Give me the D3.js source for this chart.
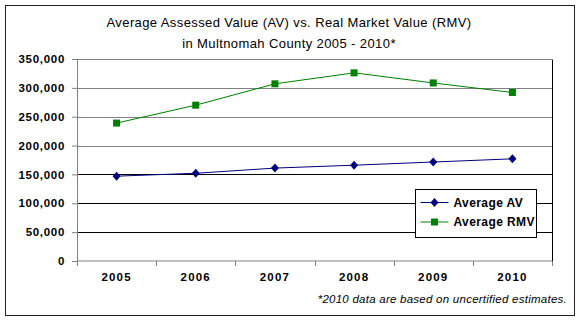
<!DOCTYPE html>
<html>
<head>
<meta charset="utf-8">
<script src="https://cdn.jsdelivr.net/npm/d3@7"></script>
<style>
  body { margin: 0; background: #fff; }
  text { font-family: Arial, "Liberation Sans", sans-serif; }
</style>
</head>
<body>
<script>
const years = ["2005", "2006", "2007", "2008", "2009", "2010"];
const avValues = [147000, 152000, 161000, 166000, 171500, 177000];
const rmvValues = [239000, 270000, 307000, 326000, 308500, 292000];
const yTicks = [0, 50000, 100000, 150000, 200000, 250000, 300000, 350000];
const seriesNames = ["Average AV", "Average RMV"];
const titleLines = ["Average Assessed Value (AV) vs. Real Market Value (RMV)",
                    "in Multnomah County 2005 - 2010*"];
const footnote = "*2010 data are based on uncertified estimates.";

const width = 580, height = 321;
const margin = {left: 77, right: 28, top: 59, bottom: 60};
const plotW = width - margin.left - margin.right;
const plotH = height - margin.top - margin.bottom;

let svg = d3.select("body").append("svg")
        .attr("width", width)
        .attr("height", height);

// outer frame
svg.append("rect")
   .attr("x", 5.5).attr("y", 5.5)
   .attr("width", 569).attr("height", 310)
   .attr("fill", "white")
   .attr("stroke", "#222")
   .attr("stroke-width", 1);

// title
svg.selectAll("text.title")
   .data(titleLines)
   .enter().append("text")
   .attr("class", "title")
   .attr("x", 289)
   .attr("y", (d, i) => 27 + i * 21)
   .attr("text-anchor", "middle")
   .attr("font-size", 13)
   .attr("letter-spacing", 0.4)
   .text(d => d);

let x = d3.scaleBand().domain(years).range([0, plotW]);
let y = d3.scaleLinear().domain([0, 350000]).range([plotH, 0]);

let g = svg.append("g")
        .attr("transform", "translate(" + margin.left + "," + margin.top + ")");

// gridlines
g.selectAll("line.grid")
 .data(yTicks.filter(d => d > 0))
 .enter().append("line")
 .attr("class", "grid")
 .attr("x1", 0).attr("x2", plotW)
 .attr("y1", d => Math.round(y(d)) + 0.5)
 .attr("y2", d => Math.round(y(d)) + 0.5)
 .attr("stroke", d => d >= 200000 ? "#808080" : "#000")
 .attr("stroke-width", 1);

// right border of plot area
g.append("line")
 .attr("x1", plotW + 0.5).attr("x2", plotW + 0.5)
 .attr("y1", Math.round(y(350000)) + 0.5).attr("y2", plotH)
 .attr("stroke", "#000");

// y axis
let yAxis = d3.axisLeft(y)
    .tickValues(yTicks)
    .tickSize(5)
    .tickPadding(7)
    .tickFormat(d3.format(","));
g.append("g")
 .call(yAxis)
 .call(a => a.select(".domain").attr("stroke", "#808080"))
 .call(a => a.selectAll(".tick line").attr("stroke", "#808080"))
 .call(a => a.selectAll("text")
             .attr("font-size", 11.5)
             .attr("font-weight", "bold")
             .attr("letter-spacing", 0.7)
             .attr("fill", "#000")
             .attr("font-family", "Arial, 'Liberation Sans', sans-serif"));

// x axis
let xAxis = d3.axisBottom(x).tickSize(0).tickPadding(12);
let xg = g.append("g")
 .attr("transform", "translate(0," + plotH + ")")
 .call(xAxis);
xg.select(".domain").remove();
xg.append("line").attr("x1", 0).attr("x2", plotW).attr("stroke", "#808080");
xg.selectAll("text")
  .attr("font-size", 11.5)
  .attr("font-weight", "bold")
  .attr("letter-spacing", 1.2)
  .attr("fill", "#000")
  .attr("font-family", "Arial, 'Liberation Sans', sans-serif");
xg.selectAll("line.btick")
  .data(d3.range(years.length + 1))
  .enter().append("line")
  .attr("class", "btick")
  .attr("x1", i => Math.round(i * x.step()) + 0.5)
  .attr("x2", i => Math.round(i * x.step()) + 0.5)
  .attr("y1", 0).attr("y2", 5)
  .attr("stroke", "#808080");

let cx = d => x(d) + x.bandwidth() / 2;

// RMV line
let line = d3.line().x((d, i) => cx(years[i])).y(d => y(d));
g.append("path")
 .datum(rmvValues)
 .attr("d", line)
 .attr("fill", "none")
 .attr("stroke", "#008000")
 .attr("stroke-width", 1);
g.selectAll("rect.rmv")
 .data(rmvValues)
 .enter().append("rect")
 .attr("class", "rmv")
 .attr("x", (d, i) => cx(years[i]) - 3.5)
 .attr("y", d => y(d) - 3.5)
 .attr("width", 7).attr("height", 7)
 .attr("fill", "#008000");

// AV line
g.append("path")
 .datum(avValues)
 .attr("d", line)
 .attr("fill", "none")
 .attr("stroke", "#000080")
 .attr("stroke-width", 1);
// squat diamond like Excel's marker
let diamond = d3.symbol().type({
  draw: function(ctx) {
    ctx.moveTo(0, -4.5); ctx.lineTo(4, 0); ctx.lineTo(0, 4.5); ctx.lineTo(-4, 0); ctx.closePath();
  }
});
g.selectAll("path.av")
 .data(avValues)
 .enter().append("path")
 .attr("class", "av")
 .attr("d", diamond)
 .attr("transform", (d, i) => "translate(" + cx(years[i]) + "," + y(d) + ")")
 .attr("fill", "#000080");

// legend
let lg = svg.append("g").attr("transform", "translate(415.5,189.5)");
lg.append("rect")
  .attr("width", 121).attr("height", 48)
  .attr("fill", "white").attr("stroke", "#000");
const legendColors = ["#000080", "#008000"];
seriesNames.forEach(function(name, i) {
  let ly = 13 + i * 19.5;
  lg.append("line")
    .attr("x1", 5).attr("x2", 33)
    .attr("y1", ly).attr("y2", ly)
    .attr("stroke", legendColors[i]);
  if (i === 0) {
    lg.append("path").attr("d", diamond)
      .attr("transform", "translate(19," + ly + ")")
      .attr("fill", legendColors[i]);
  } else {
    lg.append("rect")
      .attr("x", 15.5).attr("y", ly - 3.5)
      .attr("width", 7).attr("height", 7)
      .attr("fill", legendColors[i]);
  }
  lg.append("text")
    .attr("x", 38).attr("y", ly + 4)
    .attr("font-size", 12)
    .attr("font-weight", "bold")
    .attr("letter-spacing", 0.4)
    .text(name);
});

// footnote
svg.append("text")
   .attr("x", 567).attr("y", 303)
   .attr("text-anchor", "end")
   .attr("font-size", 11.5)
   .attr("font-style", "italic")
   .attr("letter-spacing", 0.25)
   .text(footnote);
</script>
</body>
</html>
